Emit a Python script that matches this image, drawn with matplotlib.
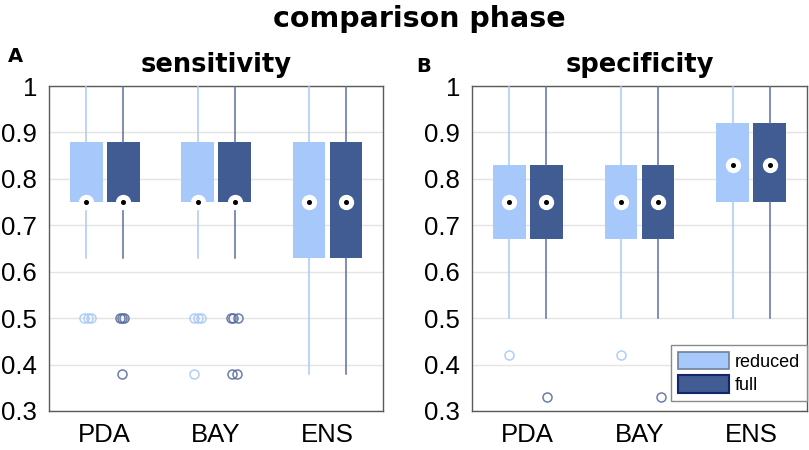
import numpy as np
import matplotlib
matplotlib.use("Agg")
import matplotlib.pyplot as plt
from matplotlib.patches import Patch

# --- data ---
methods = ["PDA", "BAY", "ENS"]
series = ["reduced", "full"]

# sensitivity: q1, median, q3, whisker low, whisker high (same for reduced and full)
sens_q1 = [0.75, 0.75, 0.63]
sens_med = [0.75, 0.75, 0.75]
sens_q3 = [0.88, 0.88, 0.88]
sens_lo = [0.63, 0.63, 0.38]
sens_hi = [1.0, 1.0, 1.0]

spec_q1 = [0.67, 0.67, 0.75]
spec_med = [0.75, 0.75, 0.83]
spec_q3 = [0.83, 0.83, 0.92]
spec_lo = [0.50, 0.50, 0.50]
spec_hi = [1.0, 1.0, 1.0]

# outliers: (method index, value, small horizontal jitter) per series
sens_out_reduced = [(0, 0.50, -0.02), (0, 0.50, 0.015), (0, 0.50, 0.045),
                    (1, 0.50, -0.03), (1, 0.50, 0.0), (1, 0.50, 0.03),
                    (1, 0.38, -0.03)]
sens_out_full = [(0, 0.50, -0.03), (0, 0.50, -0.01), (0, 0.50, 0.01),
                 (0, 0.38, -0.01),
                 (1, 0.50, -0.03), (1, 0.50, -0.01), (1, 0.50, 0.035),
                 (1, 0.38, -0.025), (1, 0.38, 0.025)]
spec_out_reduced = [(0, 0.42, 0.0), (1, 0.42, 0.0)]
spec_out_full = [(0, 0.33, 0.01), (1, 0.33, 0.03)]

C_RED = "#a7c8fa"
C_FULL = "#415b93"
C_RED_W = "#a9c9f7"
C_FULL_W = "#5b6fa0"

fig = plt.figure(figsize=(8.09, 4.5), dpi=100)
ax_a = fig.add_axes([0.0606, 0.0867, 0.413, 0.722])
ax_b = fig.add_axes([0.5834, 0.0867, 0.414, 0.722])

fig.text(0.518, 0.94, "comparison phase", ha="center", va="baseline",
         fontsize=20.5, fontweight="bold", family="DejaVu Sans")
fig.text(0.010, 0.862, "A", ha="left", va="baseline", fontsize=14,
         fontweight="bold", family="DejaVu Sans")
fig.text(0.515, 0.84, "B", ha="left", va="baseline", fontsize=14,
         fontweight="bold", family="DejaVu Sans")

OFFS = 0.166
WIDTH = 0.293


def draw_panel(ax, title, q1, med, q3, lo, hi, out_red, out_full):
    pos = np.arange(1, len(methods) + 1)
    for k, (col, wcol, outs) in enumerate([(C_RED, C_RED_W, out_red),
                                           (C_FULL, C_FULL_W, out_full)]):
        off = -OFFS if k == 0 else OFFS
        stats = []
        for i in range(len(methods)):
            stats.append(dict(q1=q1[i], med=med[i], q3=q3[i],
                              whislo=lo[i], whishi=hi[i], fliers=[]))
        ax.bxp(stats, positions=pos + off, widths=WIDTH, patch_artist=True,
               showfliers=False, showcaps=False,
               boxprops=dict(facecolor=col, edgecolor="none", linewidth=0),
               whiskerprops=dict(color=wcol, linewidth=1.1),
               medianprops=dict(linewidth=0), zorder=3)
        # median marker: white disc with black dot
        ax.plot(pos + off, med, "o", ms=10, mfc="white", mec="white", zorder=5)
        ax.plot(pos + off, med, "o", ms=2.6, mfc="black", mec="black", zorder=6)
        if outs:
            ox = [pos[i] + off + j for i, v, j in outs]
            oy = [v for i, v, j in outs]
            ax.plot(ox, oy, "o", ms=6.5, mfc="none", mec=wcol,
                    mew=1.1, zorder=4, alpha=0.9)

    ax.set_xlim(0.5, 3.5)
    ax.set_ylim(0.3, 1.0)
    ticks = np.round(np.arange(0.3, 1.01, 0.1), 1)
    ax.set_yticks(ticks)
    ax.set_yticklabels([f"{v:g}" for v in ticks])
    ax.set_xticks(pos)
    ax.set_xticklabels(methods)
    ax.tick_params(length=0, labelsize=18.5)
    ax.tick_params(axis="y", pad=8.5)
    ax.tick_params(axis="x", pad=9)
    for lab in ax.get_xticklabels() + ax.get_yticklabels():
        lab.set_family("Liberation Sans")
    ax.grid(axis="y", color="#e4e4e4", linewidth=1.0, zorder=0)
    ax.set_axisbelow(True)
    for s in ax.spines.values():
        s.set_color("#5a5a5a")
        s.set_linewidth(1.0)
    ax.set_title(title, fontsize=18.5, fontweight="bold", family="DejaVu Sans", pad=10)


draw_panel(ax_a, "sensitivity", sens_q1, sens_med, sens_q3, sens_lo, sens_hi,
           sens_out_reduced, sens_out_full)
draw_panel(ax_b, "specificity", spec_q1, spec_med, spec_q3, spec_lo, spec_hi,
           spec_out_reduced, spec_out_full)

handles = [Patch(facecolor=C_RED, edgecolor="#6f7f99", linewidth=1.2),
           Patch(facecolor=C_FULL, edgecolor="#13256b", linewidth=1.5)]
leg = ax_b.legend(handles, series, loc="lower right", bbox_to_anchor=(1.0, 0.03),
                  fancybox=False, framealpha=1, edgecolor="#8a8a8a",
                  handlelength=2.8, handleheight=1.1, handletextpad=0.3,
                  labelspacing=0.25, borderpad=0.4, borderaxespad=0,
                  prop=dict(family="Liberation Sans", size=13))
leg.get_frame().set_linewidth(1.0)

fig.savefig("out.png", dpi=100)
